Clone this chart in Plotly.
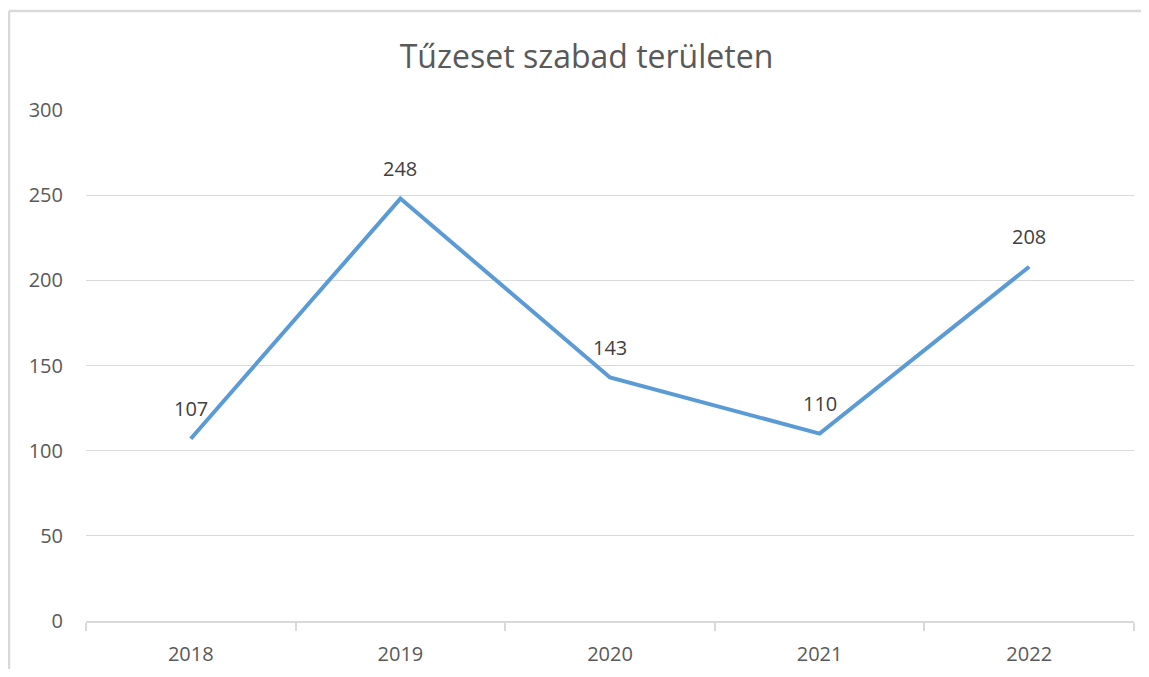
import plotly.graph_objects as go

years = ["2018", "2019", "2020", "2021", "2022"]
values = [107, 248, 143, 110, 208]
y_ticks = [0, 50, 100, 150, 200, 250, 300]
title_text = "Tűzeset szabad területen"

FONT = "Open Sans"
GREY = "#595959"

fig = go.Figure()
fig.add_trace(go.Scatter(
    x=years, y=values, mode="lines",
    line=dict(color="#5B9BD5", width=4),
    hoverinfo="x+y", showlegend=False,
))

for i, v in enumerate(values):
    fig.add_annotation(x=i, y=v, text=str(v), showarrow=False,
                       yshift=30, yanchor="middle",
                       font=dict(family=FONT, size=20, color="#404040"))

# page body has an 8px offset on every side; size figure to avoid scrollbars
OFF = 8
W, H = 1149 - 2 * OFF, 677 - 2 * OFF
ml = 86 - OFF
mt = 110 - OFF
mr = W - (1134 - OFF)
mb = H - (621 - OFF)
pw, ph = W - ml - mr, H - mt - mb
bx0 = (9 - OFF - ml) / pw
by1 = 1 + (mt - (11 - OFF)) / ph
border = dict(color="#D9D9D9", width=2.5)
# outer chart frame: top and left edges (right/bottom lie outside the view)
fig.add_shape(type="line", xref="paper", yref="paper",
              x0=bx0, x1=1.2, y0=by1, y1=by1, line=border)
fig.add_shape(type="line", xref="paper", yref="paper",
              x0=bx0, x1=bx0, y0=-0.3, y1=by1, line=border)

fig.update_layout(
    width=W, height=H,
    margin=dict(l=ml, r=mr, t=mt, b=mb, autoexpand=False),
    paper_bgcolor="white", plot_bgcolor="white",
    title=dict(text=title_text, x=(586.5 - OFF) / W, xref="container", xanchor="center",
               y=1 - (57 - OFF) / H, yref="container", yanchor="middle",
               font=dict(family=FONT, size=32, color=GREY)),
    font=dict(family=FONT, color=GREY),
)
fig.update_xaxes(
    type="category", range=[-0.5, 4.5], automargin=False,
    showgrid=False, showline=True, linecolor="#D9D9D9", linewidth=1.5,
    ticks="outside", ticklen=8, tickcolor="#D9D9D9", tickwidth=1.5,
    tickson="boundaries", ticklabelstandoff=14,
    tickfont=dict(family=FONT, size=20, color=GREY),
    fixedrange=True,
)
fig.update_yaxes(
    range=[0, 300], tickvals=y_ticks, automargin=False,
    showgrid=True, gridcolor="#D9D9D9", gridwidth=1.2,
    zeroline=False, showline=False, ticks="",
    ticklabelstandoff=22,
    tickfont=dict(family=FONT, size=20, color=GREY),
    fixedrange=True,
)

fig.write_html("out.html")
